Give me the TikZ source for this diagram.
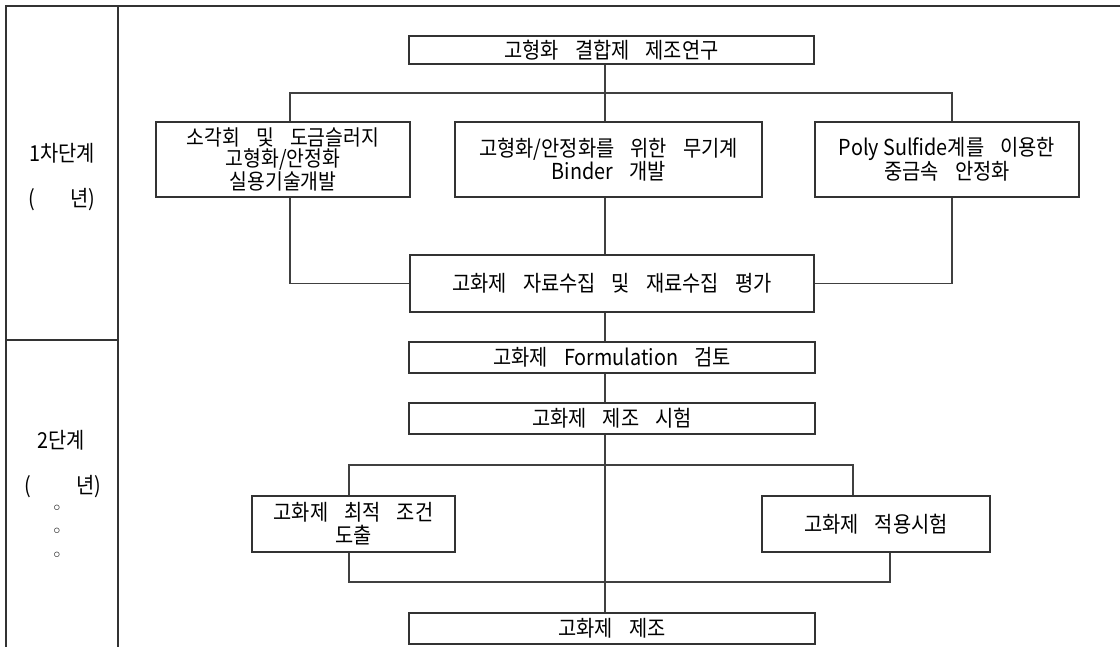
\documentclass[tikz,border=0pt]{standalone}
\usepackage{fontspec}
\setmainfont{Noto Sans CJK KR}[FakeStretch=0.9]
\newfontfamily\symfont{DejaVu Sans}
\newcommand{\ks}{\hspace{16pt}}
\begin{document}
\begin{tikzpicture}[x=1pt,y=-1pt,
  txt/.style={font=\fontsize{22}{23}\selectfont, inner sep=0pt, align=center},
  box/.style={txt, draw=black!80, line width=1.1pt},
  conn/.style={draw=black!75, line width=1.1pt},
  frame/.style={draw=black!80, line width=1.4pt},
  dot/.style={font=\symfont\fontsize{18}{18}\selectfont, inner sep=0pt}]
\useasboundingbox (0,0) rectangle (1120,647);
% frame
\draw[frame] (1120,6) -- (6,6) -- (6,647);
\draw[frame] (118,6) -- (118,647);
\draw[frame] (6,340) -- (118,340);
% left column labels
\node[txt] (s1) at (62,153) {1차단계};
\node[txt] (y1) at (62,200) {(\hspace{35pt}년)};
\node[txt] (s2) at (61,440) {2단계};
\node[txt] (y2) at (63,487) {(\hspace{45pt}년)};
\node[dot] (d1) at (57,510) {◦};
\node[dot] (d2) at (57,533) {◦};
\node[dot] (d3) at (57,557) {◦};
% boxes
\node[box, minimum width=405, minimum height=28] (top) at (611.5,50) {고형화\ks 결합제\ks 제조연구};
\node[box, font=\fontsize{21.5}{21.5}\selectfont, minimum width=254, minimum height=75] (L1) at (283,159.5) {소각회\ks 및\ks 도금슬러지\\고형화/안정화\\실용기술개발};
\node[box, minimum width=307, minimum height=75] (M1) at (608.5,159.5) {고형화/안정화를\ks 위한\ks 무기계\\Binder\ks 개발};
\node[box, minimum width=264, minimum height=75] (R1) at (947,159.5) {Poly Sulfide계를\ks 이용한\\중금속\ks 안정화};
\node[box, minimum width=404, minimum height=57] (C1) at (612,283.5) {고화제\ks 자료수집\ks 및\ks 재료수집\ks 평가};
\node[box, minimum width=406, minimum height=31] (F) at (612,357.5) {고화제\ks Formulation\ks 검토};
\node[box, minimum width=406, minimum height=31] (T) at (612,418.5) {고화제\ks 제조\ks 시험};
\node[box, minimum width=203, minimum height=56] (L2) at (353.5,524) {고화제\ks 최적\ks 조건\\도출};
\node[box, minimum width=228, minimum height=56] (R2) at (876,524) {고화제\ks 적용시험};
\node[box, minimum width=406, minimum height=31] (Fin) at (612,628.5) {고화제\ks 제조};
% helper coordinates
\coordinate (tk) at (605,0);
\coordinate (xL) at (290,0);
\coordinate (xR) at (952,0);
\coordinate (b1) at (0,93);
\coordinate (x2L) at (349,0);
\coordinate (x2R) at (853,0);
\coordinate (x3R) at (890,0);
\coordinate (b2) at (0,465);
\coordinate (b3) at (0,582);
% connectors
\draw[conn] (tk |- top.south) -- (tk |- M1.north);
\draw[conn] (xL |- L1.north) -- (xL |- b1) -- (xR |- b1) -- (xR |- R1.north);
\draw[conn] (xL |- L1.south) |- (C1.west);
\draw[conn] (xR |- R1.south) |- (C1.east);
\draw[conn] (tk |- M1.south) -- (tk |- C1.north);
\draw[conn] (tk |- C1.south) -- (tk |- F.north);
\draw[conn] (tk |- F.south) -- (tk |- T.north);
\draw[conn] (tk |- T.south) -- (tk |- Fin.north);
\draw[conn] (x2L |- L2.north) -- (x2L |- b2) -- (x2R |- b2) -- (x2R |- R2.north);
\draw[conn] (x2L |- L2.south) -- (x2L |- b3) -- (x3R |- b3) -- (x3R |- R2.south);
\end{tikzpicture}
\end{document}
